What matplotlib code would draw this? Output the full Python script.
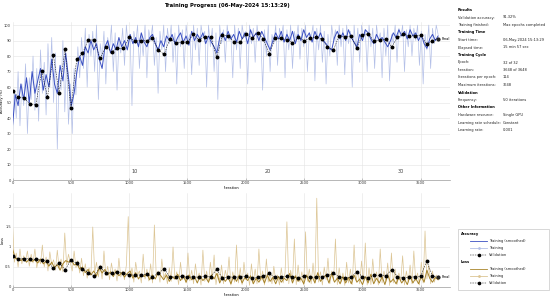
import numpy as np
import matplotlib
matplotlib.use("Agg")
import matplotlib.pyplot as plt
from matplotlib.lines import Line2D
from matplotlib.patches import Rectangle

# ---- data ----
iters_per_epoch = 114
max_iter = 3648
val_step = 50
raw_step = 16
smooth_step = 24

val_acc = [57.6, 53.5, 52.9, 49.0, 48.6, 70.3, 53.5, 80.6, 56.0, 84.3,
           46.2, 77.8, 81.7, 90.7, 90.3, 78.5, 86.0, 82.8, 85.0, 85.0,
           92.0, 89.9, 89.9, 89.9, 91.4, 83.9, 81.1, 91.2, 88.6, 89.0,
           89.0, 94.0, 90.3, 92.5, 92.5, 79.1, 93.8, 92.9, 89.0, 89.0,
           94.2, 91.8, 95.0, 91.2, 81.1, 91.4, 91.4, 90.5, 88.6, 92.0,
           89.9, 91.4, 92.5, 91.0, 86.0, 83.9, 93.0, 92.5, 93.0, 85.5,
           93.5, 94.5, 89.5, 90.5, 91.0, 86.0, 92.0, 94.2, 93.0, 93.1,
           93.5, 87.5, 89.9, 91.32]

val_loss = [0.78, 0.71, 0.71, 0.70, 0.69, 0.67, 0.64, 0.47, 0.61, 0.43,
            0.67, 0.59, 0.45, 0.36, 0.28, 0.49, 0.36, 0.34, 0.37, 0.34,
            0.30, 0.30, 0.30, 0.32, 0.26, 0.34, 0.46, 0.24, 0.26, 0.27,
            0.24, 0.26, 0.24, 0.27, 0.26, 0.44, 0.22, 0.26, 0.24, 0.26,
            0.27, 0.22, 0.24, 0.27, 0.34, 0.24, 0.26, 0.27, 0.25, 0.23,
            0.27, 0.24, 0.25, 0.26, 0.29, 0.34, 0.26, 0.23, 0.24, 0.38,
            0.26, 0.23, 0.30, 0.29, 0.28, 0.43, 0.26, 0.23, 0.24, 0.26,
            0.27, 0.65, 0.28, 0.24]

acc_smooth = [35, 55, 48, 62, 52, 66, 50, 70, 56, 64,
              72, 58, 68, 60, 78, 62, 56, 74, 64, 82,
              66, 48, 56, 70, 80, 74, 86, 82, 90, 84,
              88, 78, 72, 86, 90, 82, 88, 84, 92, 86,
              90, 84, 94, 88, 92, 86, 95, 89, 86, 92,
              94, 88, 84, 90, 86, 93, 90, 94, 88, 92,
              95, 89, 93, 87, 96, 90, 94, 91, 95, 88,
              93, 89, 86, 82, 92, 95, 90, 96, 91, 94,
              89, 96, 91, 95, 88, 97, 92, 95, 90, 96,
              92, 88, 84, 90, 95, 91, 96, 89, 94, 90,
              96, 88, 94, 90, 97, 92, 95, 89, 96, 91,
              95, 90, 88, 85, 84, 92, 96, 91, 95, 90,
              97, 92, 89, 86, 94, 90, 97, 95, 91, 88,
              94, 90, 92, 89, 86, 90, 95, 92, 97, 93,
              96, 91, 97, 93, 95, 90, 94, 88, 85, 91,
              94, 90, 93]

acc_raw = [28, 58, 40, 70, 35, 62, 48, 75, 30, 66, 52, 80,
           45, 72, 38, 84, 56, 76, 42, 88, 60, 92, 50, 82,
           20, 70, 58, 90, 44, 78, 36, 62, 30, 72, 55, 86,
           66, 92, 72, 98, 60, 94, 80, 96, 70, 100, 52, 88,
           78, 96, 62, 92, 84, 100, 70, 95, 58, 90, 82, 98,
           74, 100, 86, 94, 48, 96, 88, 100, 72, 94, 80, 100,
           66, 97, 90, 100, 74, 92, 56, 96, 84, 100, 70, 98,
           88, 100, 76, 95, 62, 100, 86, 97, 72, 100, 90, 94,
           68, 100, 84, 98, 74, 100, 92, 96, 60, 100, 86, 98,
           70, 95, 52, 100, 88, 97, 76, 100, 90, 94, 66, 100,
           84, 98, 72, 100, 92, 96, 62, 100, 88, 98, 76, 100,
           90, 95, 58, 97, 80, 100, 70, 94, 88, 100, 74, 98,
           92, 100, 66, 97, 84, 100, 72, 96, 90, 100, 78, 98,
           86, 100, 70, 95, 92, 100, 64, 98, 84, 100, 76, 96,
           62, 94, 80, 100, 90, 97, 74, 100, 86, 98, 68, 100,
           88, 96, 60, 100, 84, 98, 76, 100, 92, 97, 70, 100,
           86, 98, 72, 100, 90, 95, 66, 98, 80, 100, 64, 94,
           88, 100, 76, 98, 92, 100, 70, 97, 86, 100, 80, 98,
           90, 100, 74, 96, 62, 94, 84, 100, 72, 98, 88, 100,
           94]

loss_smooth = [0.95, 0.72, 0.70, 0.66, 0.72, 0.62, 0.70, 0.64, 0.68, 0.60,
               0.70, 0.58, 0.64, 0.52, 0.62, 0.48, 0.56, 0.42, 0.58, 0.66,
               0.62, 0.68, 0.55, 0.58, 0.45, 0.50, 0.36, 0.44, 0.30, 0.40,
               0.28, 0.48, 0.35, 0.44, 0.30, 0.38, 0.26, 0.40, 0.28, 0.36,
               0.25, 0.34, 0.40, 0.22, 0.36, 0.20, 0.32, 0.26, 0.34, 0.18,
               0.30, 0.20, 0.36, 0.28, 0.18, 0.30, 0.14, 0.26, 0.20, 0.32,
               0.16, 0.28, 0.12, 0.30, 0.18, 0.26, 0.10, 0.28, 0.16, 0.24,
               0.12, 0.30, 0.20, 0.34, 0.10, 0.26, 0.14, 0.24, 0.08, 0.28,
               0.14, 0.30, 0.10, 0.24, 0.16, 0.28, 0.08, 0.22, 0.12, 0.26,
               0.10, 0.30, 0.14, 0.24, 0.08, 0.26, 0.12, 0.22, 0.16, 0.34,
               0.10, 0.28, 0.14, 0.22, 0.08, 0.30, 0.12, 0.26, 0.10, 0.36,
               0.14, 0.24, 0.30, 0.10, 0.34, 0.12, 0.22, 0.08, 0.26, 0.10,
               0.24, 0.08, 0.30, 0.12, 0.20, 0.06, 0.26, 0.10, 0.32, 0.08,
               0.22, 0.10, 0.26, 0.06, 0.30, 0.12, 0.20, 0.08, 0.24, 0.10,
               0.20, 0.06, 0.28, 0.10, 0.22, 0.08, 0.26, 0.12, 0.42, 0.22,
               0.12, 0.24, 0.18]

loss_raw = [1.60, 0.62, 0.85, 0.50, 0.95, 0.58, 0.78, 0.66, 0.90, 0.52, 0.82, 0.60,
            0.95, 0.48, 0.70, 0.58, 1.05, 0.50, 0.75, 0.40, 0.88, 0.55, 0.68, 0.42,
            0.92, 0.45, 0.70, 0.38, 1.35, 0.55, 0.82, 0.60, 0.40, 0.90, 0.48, 0.66,
            0.35, 0.72, 0.28, 0.58, 0.22, 0.48, 0.30, 1.50, 0.35, 0.62, 0.25, 0.55,
            0.20, 0.90, 0.28, 0.52, 0.18, 0.60, 0.32, 0.45, 0.15, 0.72, 0.25, 0.40,
            0.18, 0.55, 1.76, 0.22, 0.48, 0.12, 0.62, 0.30, 0.40, 0.10, 0.82, 0.20,
            0.45, 0.15, 0.58, 0.10, 1.55, 0.28, 0.40, 0.12, 0.70, 0.22, 0.35, 0.08,
            0.48, 0.14, 1.00, 0.20, 0.38, 0.06, 0.62, 0.18, 0.30, 0.10, 0.85, 0.15,
            0.42, 0.08, 0.58, 0.20, 0.35, 0.05, 0.92, 0.14, 0.40, 0.10, 0.62, 0.18,
            0.80, 0.06, 0.35, 0.15, 0.55, 0.08, 0.42, 0.20, 0.75, 0.05, 0.38, 0.12,
            1.05, 0.10, 0.48, 0.06, 0.62, 0.18, 0.35, 0.04, 0.58, 0.12, 0.45, 0.08,
            0.95, 0.15, 0.40, 0.05, 0.70, 0.12, 0.36, 0.08, 0.52, 0.16, 0.30, 0.05,
            0.48, 0.10, 0.35, 1.63, 0.08, 0.42, 0.15, 1.20, 0.06, 0.55, 0.12, 0.38,
            0.05, 1.38, 0.14, 0.45, 0.08, 0.60, 0.10, 2.22, 0.12, 0.38, 0.05, 0.50,
            0.18, 0.72, 0.08, 0.40, 0.15, 1.20, 0.06, 0.48, 0.12, 0.35, 0.04, 0.62,
            0.10, 0.45, 0.06, 1.05, 0.15, 0.40, 0.08, 0.65, 0.12, 1.10, 0.05, 0.48,
            0.06, 0.70, 0.14, 0.38, 0.05, 0.95, 0.10, 0.40, 0.12, 0.60, 0.04, 0.85,
            0.10, 0.45, 0.06, 0.35, 0.15, 0.78, 0.05, 0.40, 0.12, 0.55, 0.08, 0.90,
            0.15, 0.35, 0.05, 0.62, 0.10, 1.40, 0.20, 0.55, 0.08, 0.40, 0.12, 0.30,
            0.22]

epoch_labels = [10, 20, 30]

info_rows = [
    ("Results", None),
    ("Validation accuracy:", "91.32%"),
    ("Training finished:", "Max epochs completed"),
    ("Training Time", None),
    ("Start time:", "06-May-2024 15:13:29"),
    ("Elapsed time:", "15 min 57 sec"),
    ("Training Cycle", None),
    ("Epoch:", "32 of 32"),
    ("Iteration:", "3648 of 3648"),
    ("Iterations per epoch:", "114"),
    ("Maximum iterations:", "3648"),
    ("Validation", None),
    ("Frequency:", "50 iterations"),
    ("Other Information", None),
    ("Hardware resource:", "Single GPU"),
    ("Learning rate schedule:", "Constant"),
    ("Learning rate:", "0.001"),
]

# iteration axes for each series
val_it = list(range(0, max_iter, val_step)) + [max_iter]
raw_it = np.arange(len(acc_raw)) * raw_step
sm_it = np.arange(len(acc_smooth)) * smooth_step

# colours
c_acc = "#3a4fc2"
c_acc_raw = "#b4c0e8"
c_loss = "#a8842a"
c_loss_raw = "#dcc594"
grid_c = "#e4e4e4"
fs = 2.6

W, H = 550, 299
fig = plt.figure(figsize=(5.5, 2.99), dpi=100)


def px(x, y):
    return x / W, 1 - y / H


ax1 = fig.add_axes([12.5 / W, 1 - 180 / H, 437.5 / W, 158 / H])
ax2 = fig.add_axes([12.5 / W, 1 - 287 / H, 437.5 / W, 94 / H])

for ax in (ax1, ax2):
    for s in ("top", "right", "left"):
        ax.spines[s].set_visible(False)
    ax.spines["bottom"].set_color("#9a9a9a")
    ax.spines["bottom"].set_linewidth(0.5)
    ax.set_xlim(0, 3750)
    ax.set_xticks(range(0, 3501, 500))
    ax.tick_params(axis="x", direction="in", length=1.5, width=0.4,
                   colors="#9a9a9a", labelsize=fs, labelcolor="#333333", pad=1)
    ax.tick_params(axis="y", length=0, labelsize=fs, labelcolor="#333333", pad=1)
    ax.grid(True, color=grid_c, linewidth=0.4)
    ax.set_axisbelow(True)
    ax.set_xlabel("Iteration", fontsize=fs, labelpad=0.5)

# accuracy
ax1.plot(raw_it, acc_raw, color=c_acc_raw, lw=0.5)
ax1.plot(sm_it, acc_smooth, color=c_acc, lw=0.7)
ax1.plot(val_it, val_acc, color="black", lw=0.35, ls=(0, (3, 2)),
         marker="o", ms=1.8, mec="black", mfc="black")
ax1.plot(val_it[-1:], val_acc[-1:], "s", color="#222222", ms=2.0)
ax1.annotate("Final", (val_it[-1], val_acc[-1]), xytext=(2.5, 0),
             textcoords="offset points", fontsize=fs, va="center")
ax1.set_ylim(0, 102)
ax1.set_yticks(range(0, 101, 10))
ax1.set_ylabel("Accuracy (%)", fontsize=fs)
ax1.yaxis.set_label_coords(-0.019, 0.5)
for e in epoch_labels:
    ax1.text((e - 0.8) * iters_per_epoch, 0.04, str(e), fontsize=3.6,
             color="#444444", ha="center", va="bottom",
             transform=ax1.get_xaxis_transform())

# loss
ax2.plot(raw_it, loss_raw, color=c_loss_raw, lw=0.5)
ax2.plot(sm_it, loss_smooth, color=c_loss, lw=0.7)
ax2.plot(val_it, val_loss, color="black", lw=0.35, ls=(0, (3, 2)),
         marker="o", ms=1.8, mec="black", mfc="black")
ax2.plot(val_it[-1:], val_loss[-1:], "s", color="#222222", ms=2.0)
ax2.annotate("Final", (val_it[-1], val_loss[-1]), xytext=(2.5, 0),
             textcoords="offset points", fontsize=fs, va="center")
ax2.set_ylim(0, 2.35)
ax2.set_yticks([0, 0.5, 1, 1.5, 2])
ax2.set_yticklabels(["0", "0.5", "1", "1.5", "2"])
ax2.set_ylabel("Loss", fontsize=fs)
ax2.yaxis.set_label_coords(-0.019, 0.5)

fig.text(*px(227, 6), "Training Progress (06-May-2024 15:13:29)",
         fontsize=3.8, fontweight="bold", ha="center", va="center")

# info panel
for i, (lab, val) in enumerate(info_rows):
    y = 10 + 7.5 * i
    if val is None:
        fig.text(*px(458, y), lab, fontsize=fs, fontweight="bold", va="center")
    else:
        fig.text(*px(458, y), lab, fontsize=fs, va="center", color="#222222")
        fig.text(*px(503, y), val, fontsize=fs, va="center", color="#222222")

# legend box
x0, y0 = px(458, 290)
x1, y1 = px(549, 229)
fig.patches.append(Rectangle((x0, y0), x1 - x0, y1 - y0, transform=fig.transFigure,
                             facecolor="white", edgecolor="#c8c8c8", lw=0.5))
groups = [("Accuracy", c_acc, c_acc_raw), ("Loss", c_loss, c_loss_raw)]
row = 0
for name, cs, cr in groups:
    y = 234 + 7 * row
    fig.text(*px(461, y), name, fontsize=fs, fontweight="bold", va="center")
    entries = [("Training (smoothed)", dict(color=cs, lw=0.6)),
               ("Training", dict(color=cr, lw=0.6, marker="o", ms=1.0)),
               ("Validation", dict(color="black", lw=0.35, ls=(0, (3, 2)),
                                   marker="o", ms=1.6))]
    for k, (lab, kw) in enumerate(entries):
        yy = y + 7 * (k + 1)
        xa, ya = px(470, yy)
        xb, _ = px(487, yy)
        fig.add_artist(Line2D([xa, (xa + xb) / 2, xb], [ya, ya, ya],
                              transform=fig.transFigure, markevery=[1], **kw))
        fig.text(*px(489, yy), lab, fontsize=fs, va="center", color="#222222")
    row += 4

fig.savefig("out.png", dpi=100)
